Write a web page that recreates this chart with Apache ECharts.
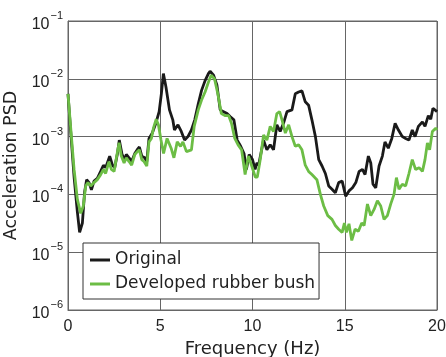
<!DOCTYPE html>
<html>
<head>
<meta charset="utf-8">
<script src="https://cdn.jsdelivr.net/npm/echarts@6/dist/echarts.min.js"></script>
<style>
html,body{margin:0;padding:0;background:#fff;}
#chart{width:446px;height:357px;}
</style>
</head>
<body>
<div id="chart"></div>
<script>
var seriesNames = ['Original', 'Developed rubber bush'];
var xTicks = [0, 5, 10, 15, 20];
var yTickExponents = [-6, -5, -4, -3, -2, -1];

var freqOriginal = [0, 0.14, 0.33, 0.51, 0.63, 0.78, 0.9, 1.01, 1.14, 1.27, 1.41, 1.59, 1.77, 1.92, 2.04, 2.26, 2.41, 2.53, 2.68, 2.78, 2.93, 3.07, 3.16, 3.31, 3.45, 3.62, 3.76, 3.87, 4.0, 4.16, 4.27, 4.39, 4.57, 4.76, 4.94, 5.06, 5.17, 5.22, 5.31, 5.5, 5.68, 5.77, 5.96, 6.14, 6.32, 6.5, 6.69, 6.87, 7.06, 7.24, 7.43, 7.61, 7.7, 7.89, 8.07, 8.25, 8.43, 8.62, 8.8, 8.99, 9.17, 9.36, 9.54, 9.67, 9.82, 10.0, 10.14, 10.24, 10.33, 10.6, 10.78, 10.96, 11.14, 11.32, 11.5, 11.68, 11.87, 12.14, 12.32, 12.5, 12.68, 12.86, 13.04, 13.22, 13.41, 13.59, 13.77, 13.95, 14.13, 14.31, 14.49, 14.67, 14.86, 15.05, 15.23, 15.42, 15.6, 15.78, 15.96, 16.1, 16.28, 16.41, 16.53, 16.68, 16.86, 17.04, 17.18, 17.36, 17.55, 17.73, 17.91, 18.12, 18.3, 18.48, 18.66, 18.81, 18.99, 19.21, 19.35, 19.53, 19.66, 19.78, 20.0];
var psdOriginal = [5.5e-3, 1.3e-3, 2.0e-4, 4.9e-5, 2.2e-5, 3.2e-5, 1.1e-4, 1.8e-4, 1.6e-4, 1.2e-4, 1.7e-4, 1.9e-4, 2.5e-4, 3.2e-4, 2.9e-4, 4.6e-4, 3.2e-4, 2.9e-4, 5.1e-4, 8.7e-4, 4.9e-4, 4.0e-4, 4.9e-4, 4.3e-4, 3.7e-4, 5.1e-4, 6.0e-4, 6.6e-4, 4.6e-4, 4.3e-4, 3.7e-4, 9.3e-4, 1.15e-3, 1.7e-3, 2.7e-3, 5.5e-3, 1.23e-2, 1.3e-2, 7.2e-3, 2.9e-3, 1.95e-3, 1.3e-3, 1.6e-3, 1.23e-3, 8.7e-4, 1.0e-3, 1.3e-3, 1.95e-3, 3.7e-3, 6.3e-3, 9.3e-3, 1.23e-2, 1.35e-2, 1.15e-2, 7.8e-3, 2.9e-3, 2.7e-3, 2.5e-3, 2.2e-3, 1.95e-3, 8.7e-4, 6.8e-4, 5.1e-4, 2.7e-4, 4.9e-4, 4.0e-4, 2.7e-4, 3.5e-4, 3.2e-4, 8.7e-4, 5.9e-4, 7.2e-4, 5.9e-4, 1.6e-3, 1.23e-3, 1.7e-3, 2.7e-3, 2.9e-3, 5.5e-3, 5.9e-3, 6.2e-3, 4.0e-3, 3.5e-3, 1.95e-3, 1.0e-3, 4.0e-4, 3.1e-4, 2.3e-4, 1.4e-4, 1.23e-4, 1.07e-4, 1.6e-4, 1.7e-4, 9.3e-5, 1.15e-4, 1.3e-4, 1.6e-4, 2.5e-4, 2.7e-4, 2.2e-4, 4.6e-4, 3.5e-4, 1.5e-4, 1.3e-4, 3.1e-4, 4.6e-4, 8.1e-4, 6.3e-4, 9.3e-4, 1.7e-3, 1.3e-3, 1.0e-3, 9.3e-4, 8.7e-4, 1.3e-3, 1.0e-3, 1.5e-3, 1.8e-3, 1.5e-3, 2.3e-3, 2.0e-3, 3.1e-3, 2.7e-3];

var freqBush = [0, 0.14, 0.33, 0.51, 0.69, 0.83, 0.96, 1.08, 1.23, 1.41, 1.59, 1.77, 1.92, 2.04, 2.22, 2.35, 2.5, 2.64, 2.77, 2.89, 3.04, 3.16, 3.31, 3.45, 3.62, 3.76, 3.87, 4.0, 4.12, 4.27, 4.39, 4.52, 4.63, 4.78, 4.9, 5.04, 5.18, 5.37, 5.59, 5.74, 5.92, 6.1, 6.23, 6.42, 6.69, 6.84, 7.06, 7.24, 7.43, 7.61, 7.76, 7.94, 8.12, 8.31, 8.53, 8.71, 8.86, 9.04, 9.22, 9.41, 9.6, 9.78, 9.96, 10.15, 10.26, 10.42, 10.6, 10.78, 10.96, 11.14, 11.32, 11.47, 11.6, 11.78, 11.96, 12.14, 12.32, 12.5, 12.68, 12.86, 13.04, 13.22, 13.49, 13.68, 13.86, 14.08, 14.31, 14.49, 14.67, 14.86, 14.98, 15.09, 15.23, 15.38, 15.56, 15.74, 15.92, 16.05, 16.23, 16.41, 16.59, 16.77, 16.95, 17.13, 17.31, 17.49, 17.67, 17.8, 17.94, 18.12, 18.3, 18.48, 18.66, 18.84, 19.03, 19.21, 19.35, 19.48, 19.6, 19.75, 19.93, 20.0];
var psdBush = [5.5e-3, 1.5e-3, 2.7e-4, 8.1e-5, 4.7e-5, 6.3e-5, 1.4e-4, 1.6e-4, 1.4e-4, 1.6e-4, 1.8e-4, 2.2e-4, 2.7e-4, 2.3e-4, 3.7e-4, 2.7e-4, 2.5e-4, 4.6e-4, 7.8e-4, 4.6e-4, 3.5e-4, 4.3e-4, 3.7e-4, 3.2e-4, 4.9e-4, 5.5e-4, 5.9e-4, 4.0e-4, 3.7e-4, 3.1e-4, 8.1e-4, 9.3e-4, 1.4e-3, 2.0e-3, 1.6e-3, 8.7e-4, 5.1e-4, 9.3e-4, 6.3e-4, 4.3e-4, 8.1e-4, 6.8e-4, 8.1e-4, 5.5e-4, 5.9e-4, 1.5e-3, 2.9e-3, 4.3e-3, 5.9e-3, 8.7e-3, 1.15e-2, 1.0e-2, 5.5e-3, 2.5e-3, 2.3e-3, 2.3e-3, 1.7e-3, 9.3e-4, 7.2e-4, 5.9e-4, 2.2e-4, 4.6e-4, 3.1e-4, 2.0e-4, 2.0e-4, 4.0e-4, 1.07e-3, 8.7e-4, 1.5e-3, 1.23e-3, 2.5e-3, 2.7e-3, 1.95e-3, 1.15e-3, 1.6e-3, 1.0e-3, 6.8e-4, 7.2e-4, 5.9e-4, 3.2e-4, 2.5e-4, 2.2e-4, 1.8e-4, 1.0e-4, 6.3e-5, 4.3e-5, 3.7e-5, 2.9e-5, 2.5e-5, 2.2e-5, 3.2e-5, 2.2e-5, 3.1e-5, 1.6e-5, 2.5e-5, 2.3e-5, 3.2e-5, 2.9e-5, 6.8e-5, 4.3e-5, 5.5e-5, 7.8e-5, 6.3e-5, 3.7e-5, 4.3e-5, 6.8e-5, 1.0e-4, 1.95e-4, 1.23e-4, 1.5e-4, 1.4e-4, 2.3e-4, 4.0e-4, 2.7e-4, 2.9e-4, 2.5e-4, 4.0e-4, 7.8e-4, 5.9e-4, 1.23e-3, 1.4e-3, 1.3e-3];

function pairs(xs, ys) {
  var out = [];
  for (var i = 0; i < xs.length; i++) out.push([xs[i], ys[i]]);
  return out;
}

var chart = echarts.init(document.getElementById('chart'), null, {renderer: 'canvas'});
var textColor = '#222';
var gridColor = '#666';
var textFont = 'DejaVu Sans';
var numFont = 'Liberation Sans';
chart.setOption({
  animation: false,
  backgroundColor: '#fff',
  grid: {left: 68, right: 9, top: 21, bottom: 47, containLabel: false, outerBoundsMode: 'none',
    show: true, borderColor: gridColor, borderWidth: 1, backgroundColor: 'transparent'},
  legend: {
    data: seriesNames,
    orient: 'vertical',
    left: 83, top: 243,
    padding: [8, 4, 6, 7],
    itemGap: 6,
    itemWidth: 20, itemHeight: 3,
    icon: 'rect',
    backgroundColor: '#fff',
    borderColor: '#333', borderWidth: 1,
    textStyle: {fontSize: 17, color: textColor, fontFamily: textFont, lineHeight: 18}
  },
  xAxis: {
    type: 'value', min: 0, max: 20, interval: 5,
    name: 'Frequency (Hz)', nameLocation: 'middle', nameGap: 29,
    nameTextStyle: {fontSize: 18, color: textColor, fontFamily: textFont},
    axisLine: {show: true, lineStyle: {color: gridColor, width: 1}},
    axisTick: {show: false},
    axisLabel: {fontSize: 16, color: textColor, margin: 9, fontFamily: numFont,
      formatter: function (v) { return xTicks.indexOf(v) >= 0 ? String(v) : ''; }},
    splitLine: {show: true, lineStyle: {color: gridColor, width: 1}}
  },
  yAxis: {
    type: 'log', logBase: 10, min: 1e-6, max: 1e-1,
    name: 'Acceleration PSD', nameLocation: 'middle', nameGap: 45,
    nameTextStyle: {fontSize: 17.5, color: textColor, fontFamily: textFont},
    axisLine: {show: true, lineStyle: {color: gridColor, width: 1}},
    axisTick: {show: false},
    axisLabel: {
      margin: 5, color: textColor,
      formatter: function (v) {
        var e = Math.round(Math.log(v) / Math.LN10);
        if (yTickExponents.indexOf(e) < 0) return '';
        return '{b|10}{e|\u2212' + Math.abs(e) + '}';
      },
      rich: {
        b: {fontSize: 16, color: textColor, fontFamily: numFont, padding: [7, 0, 0, 0]},
        e: {fontSize: 11, color: textColor, fontFamily: numFont, padding: [0, 0, 10, 1]}
      }
    },
    splitLine: {show: true, lineStyle: {color: gridColor, width: 1}}
  },
  series: [
    {name: seriesNames[0], type: 'line', data: pairs(freqOriginal, psdOriginal), showSymbol: false, symbol: 'none',
      lineStyle: {color: '#1a1a1a', width: 2.8}, itemStyle: {color: '#1a1a1a'}},
    {name: seriesNames[1], type: 'line', data: pairs(freqBush, psdBush), showSymbol: false, symbol: 'none',
      lineStyle: {color: '#6cbd45', width: 2.8}, itemStyle: {color: '#6cbd45'}}
  ]
});
</script>
</body>
</html>
